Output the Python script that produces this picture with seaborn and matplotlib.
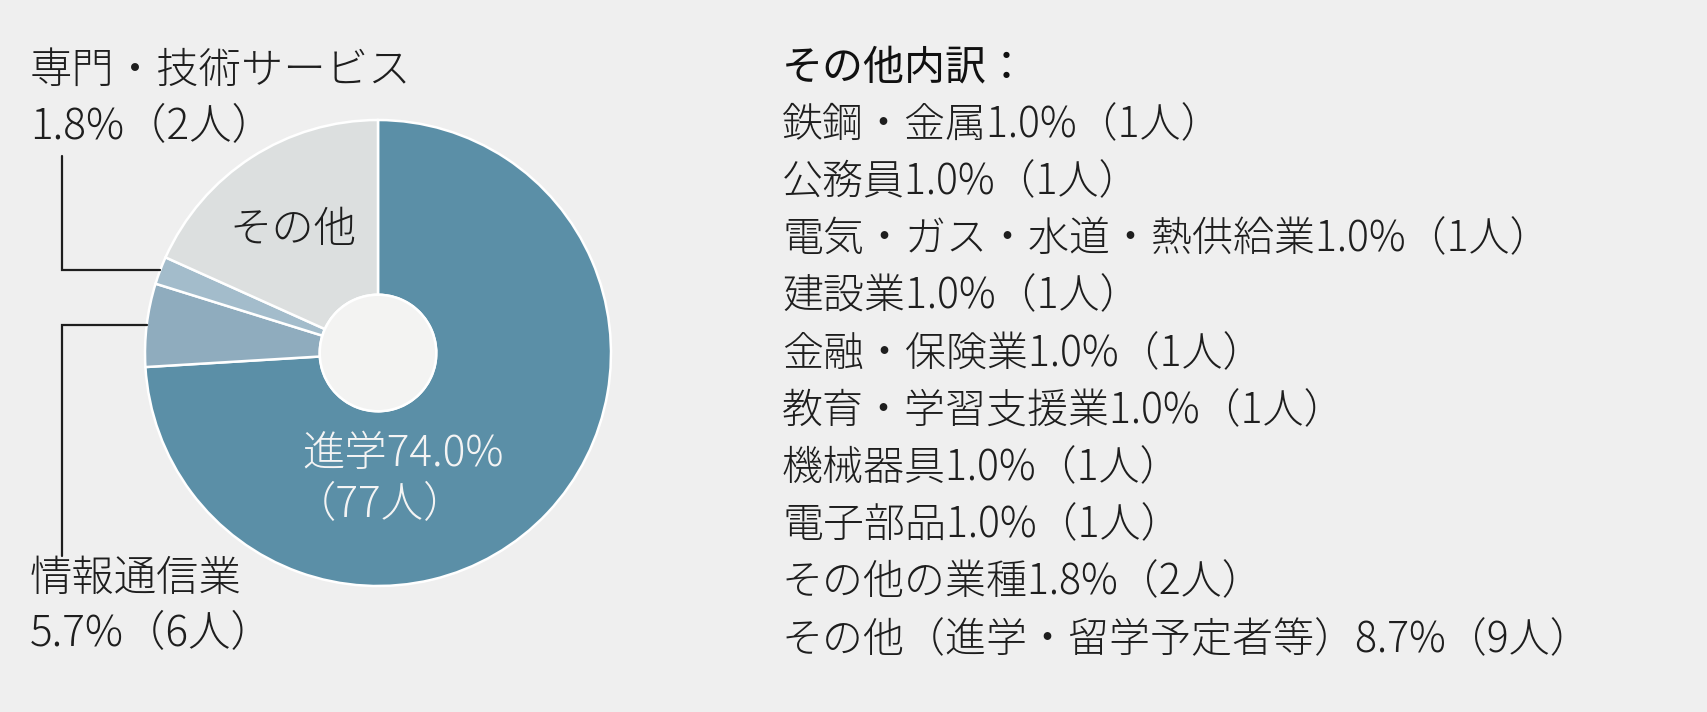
import matplotlib
matplotlib.use("Agg")
import matplotlib.pyplot as plt
import seaborn as sns
import numpy as np

# ---- data ----
categories = ["進学", "情報通信業", "専門・技術サービス", "その他"]
counts = [77, 6, 2, 19]
pct_labels = ["74.0%", "5.7%", "1.8%", None]
colors_hex = ["#5b8fa7", "#8facbe", "#a3bccb", "#dcdfdf"]

other_title = "その他内訳："
other_items = [
    "鉄鋼・金属1.0%（1人）",
    "公務員1.0%（1人）",
    "電気・ガス・水道・熱供給業1.0%（1人）",
    "建設業1.0%（1人）",
    "金融・保険業1.0%（1人）",
    "教育・学習支援業1.0%（1人）",
    "機械器具1.0%（1人）",
    "電子部品1.0%（1人）",
    "その他の業種1.8%（2人）",
    "その他（進学・留学予定者等）8.7%（9人）",
]

BG = "#efefef"
HOLE = "#f3f3f2"
TXT = "#1e1e1e"

sns.set_theme(style="white")
plt.rcParams["font.family"] = ["Noto Sans CJK JP", "DejaVu Sans"]
plt.rcParams["figure.facecolor"] = BG

W, H = 1707, 712
fig = plt.figure(figsize=(W / 100, H / 100), dpi=100)
fig.patch.set_facecolor(BG)

def fx(px):
    return px / W

def fy(py):
    return 1 - py / H

# donut axes: centre (378, 353), radius 233 px
cx, cy, r = 378, 353, 233
ax = fig.add_axes([fx(cx - r), fy(cy + r), 2 * r / W, 2 * r / H])
palette = sns.color_palette(colors_hex)
wedges, _ = ax.pie(
    counts, colors=palette, startangle=90, counterclock=False,
    radius=1.0,
    wedgeprops=dict(width=0.75, edgecolor="white", linewidth=1.8),
)
ax.pie([1], radius=0.25, colors=[HOLE],
       wedgeprops=dict(edgecolor="white", linewidth=1.8))
for w in wedges:
    w.set_clip_on(False)
ax.set_xlim(-1, 1)
ax.set_ylim(-1, 1)
ax.set_aspect("equal")
ax.axis("off")

# leader lines from the middle of the small wedges
total = sum(counts)
cum = np.cumsum([0] + counts)
def mid_point(i):
    frac = (cum[i] + cum[i + 1]) / 2 / total
    ang = np.deg2rad(90 - 360 * frac)
    return np.cos(ang), np.sin(ang)

x_v = (62 - cx) / r
mx, my = mid_point(2)
ax.plot([mx, x_v, x_v], [my, my, (cy - 156) / r], color=TXT, lw=1.6,
        clip_on=False, solid_joinstyle="miter")
mx, my = mid_point(1)
ax.plot([mx, x_v, x_v], [my, my, (cy - 556) / r], color=TXT, lw=1.6,
        clip_on=False, solid_joinstyle="miter")

fs_left = 30.5
fs_right = 29.5
kwl = dict(fontsize=fs_left, color=TXT, va="center", ha="left", fontweight="light")
kwr = dict(fontsize=fs_right, color=TXT, va="center", ha="left", fontweight="light")

fig.text(fx(30), fy(71), categories[2], **kwl)
fig.text(fx(30), fy(127), f"{pct_labels[2]}（{counts[2]}人）", **kwl)
fig.text(fx(30), fy(579), categories[1], **kwl)
fig.text(fx(30), fy(634), f"{pct_labels[1]}（{counts[1]}人）", **kwl)

# inside labels
ax.text((229 - cx) / r, (cy - 230) / r, categories[3], fontsize=fs_left, color=TXT,
        va="center", ha="left", fontweight="light")
ax.text((302 - cx) / r, (cy - 454) / r, f"{categories[0]}{pct_labels[0]}",
        fontsize=fs_left, color="#f4f4f4", va="center", ha="left", fontweight="light")
ax.text((294 - cx) / r, (cy - 505) / r, f"（{counts[0]}人）",
        fontsize=fs_left, color="#f4f4f4", va="center", ha="left", fontweight="light")

# right-hand breakdown
fig.text(fx(782), fy(68), other_title, fontsize=fs_right, color="#111111",
         va="center", ha="left", fontweight="normal")
for i, item in enumerate(other_items):
    fig.text(fx(782), fy(68 + 57.2 * (i + 1)), item, **kwr)

fig.savefig("out.png", dpi=100, facecolor=BG)
